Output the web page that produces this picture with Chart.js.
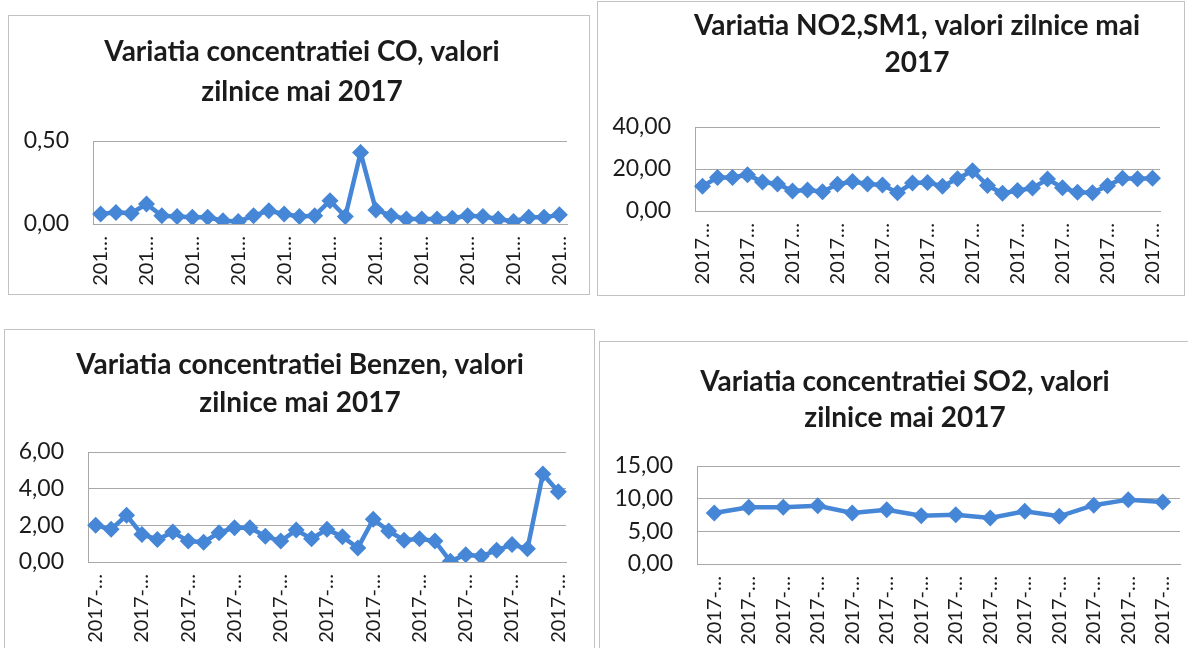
<!DOCTYPE html>
<html>
<head>
<meta charset="utf-8">
<script src="https://cdn.jsdelivr.net/npm/chart.js@4.4.0/dist/chart.umd.min.js"></script>
<style>
  body { margin: 0; background: #fff; width: 1188px; height: 648px; overflow: hidden; position: relative; }
  .box { position: absolute; border: 1px solid #c2c2c2; box-sizing: border-box; background: #fff; overflow: hidden; }
  .wrap { position: absolute; left: 0; top: 0; }
</style>
</head>
<body>
<div class="box" style="left:8px;top:15px;width:582px;height:280px">
  <div class="wrap" style="width:586px;height:278px"><canvas id="coChart"></canvas></div>
</div>
<div class="box" style="left:597px;top:1px;width:588px;height:295px">
  <div class="wrap" style="width:638px;height:293px"><canvas id="no2Chart"></canvas></div>
</div>
<div class="box" style="left:4px;top:329px;width:591px;height:340px">
  <div class="wrap" style="width:590px;height:338px"><canvas id="benzenChart"></canvas></div>
</div>
<div class="box" style="left:599px;top:341px;width:600px;height:330px">
  <div class="wrap" style="width:610px;height:328px"><canvas id="so2Chart"></canvas></div>
</div>
<script>
// zilele lunii mai 2017
const daysMay = [
  '2017-05-01', '2017-05-02', '2017-05-03', '2017-05-04', '2017-05-05', '2017-05-06', '2017-05-07',
  '2017-05-08', '2017-05-09', '2017-05-10', '2017-05-11', '2017-05-12', '2017-05-13', '2017-05-14',
  '2017-05-15', '2017-05-16', '2017-05-17', '2017-05-18', '2017-05-19', '2017-05-20', '2017-05-21',
  '2017-05-22', '2017-05-23', '2017-05-24', '2017-05-25', '2017-05-26', '2017-05-27', '2017-05-28',
  '2017-05-29', '2017-05-30', '2017-05-31'
];
const so2Days = [
  '2017-05-01', '2017-05-02', '2017-05-03', '2017-05-04', '2017-05-05', '2017-05-06', '2017-05-07',
  '2017-05-08', '2017-05-09', '2017-05-10', '2017-05-11', '2017-05-12', '2017-05-13', '2017-05-14'
];

const coValues = [0.06, 0.07, 0.065, 0.12, 0.05, 0.045, 0.04, 0.04, 0.02, 0.015, 0.05, 0.08, 0.06, 0.045, 0.05,
  0.14, 0.045, 0.43, 0.085, 0.05, 0.03, 0.03, 0.03, 0.035, 0.05, 0.045, 0.03, 0.015, 0.04, 0.04, 0.055];
const no2Values = [11.8, 16.0, 16.0, 17.3, 13.8, 12.9, 9.5, 10.0, 9.2, 12.7, 14.0, 12.9, 12.4, 8.7, 13.3,
  13.6, 11.8, 15.4, 19.2, 12.2, 8.4, 9.8, 10.9, 15.2, 11.1, 8.9, 8.7, 12.0, 15.6, 15.3, 15.6];
const benzenValues = [2.0, 1.78, 2.55, 1.5, 1.23, 1.63, 1.14, 1.08, 1.6, 1.87, 1.87, 1.41, 1.14, 1.74, 1.27,
  1.78, 1.38, 0.77, 2.33, 1.69, 1.19, 1.27, 1.14, 0.04, 0.4, 0.31, 0.64, 0.95, 0.72, 4.8, 3.83];
const so2Values = [7.8, 8.7, 8.7, 8.9, 7.8, 8.3, 7.4, 7.55, 7.05, 8.06, 7.3, 9.0, 9.85, 9.5];

const BLUE = '#4686d6';
const GRID = '#a8a8a8';
const TEXT = '#1b1b1b';

Chart.defaults.font.family = 'Lato';

function makeChart(id, labels, values, o) {
  return new Chart(document.getElementById(id), {
    type: 'line',
    data: {
      labels: labels,
      datasets: [{
        data: values,
        borderColor: BLUE,
        backgroundColor: BLUE,
        borderWidth: 4.5,
        pointStyle: 'rectRot',
        pointRadius: 8.5,
        pointBorderWidth: 0,
        tension: 0
      }]
    },
    options: {
      responsive: true,
      maintainAspectRatio: false,
      animation: false,
      layout: { padding: 0 },
      plugins: {
        legend: { display: false },
        tooltip: { enabled: false },
        title: {
          display: true,
          text: o.title,
          color: TEXT,
          font: { size: 28, weight: 'bold', lineHeight: o.titleLine + 'px' },
          padding: { top: o.titleTop, bottom: o.titleBottom }
        }
      },
      scales: {
        x: {
          offset: true,
          grid: { display: false },
          border: { display: true, color: GRID, width: 1 },
          afterFit: s => { s.height = o.xHeight; },
          ticks: {
            autoSkip: false,
            minRotation: 90,
            maxRotation: 90,
            padding: 4,
            color: TEXT,
            font: { size: 20 },
            callback: (v, i) => i % o.every === 0 ? labels[i].slice(0, o.keep) + '\u2026' : null
          }
        },
        y: {
          min: 0,
          max: o.max,
          afterFit: s => { s.width = o.yWidth; },
          grid: { color: GRID, drawTicks: false },
          border: { display: true, color: GRID },
          ticks: {
            stepSize: o.step,
            padding: 24,
            color: TEXT,
            font: { size: 23 },
            callback: v => v.toFixed(2).replace('.', ',')
          }
        },
        // spatiu gol la dreapta zonei de grafic
        spacer: {
          position: 'right',
          grid: { display: false },
          border: { display: false },
          ticks: { display: false },
          afterFit: s => { s.width = o.rightGap; }
        }
      }
    }
  });
}

makeChart('coChart', daysMay, coValues, {
  title: ['Variatia concentratiei CO, valori', 'zilnice mai 2017'],
  titleLine: 40, titleTop: 16, titleBottom: 29,
  yWidth: 84, rightGap: 28, xHeight: 70,
  max: 0.5, step: 0.5, every: 3, keep: 3
});
makeChart('no2Chart', daysMay, no2Values, {
  title: ['Variatia NO2,SM1, valori zilnice mai', '2017'],
  titleLine: 37, titleTop: 5, titleBottom: 46,
  yWidth: 97, rightGap: 76, xHeight: 84,
  max: 40, step: 20, every: 3, keep: 4
});
makeChart('benzenChart', daysMay, benzenValues, {
  title: ['Variatia concentratiei Benzen, valori', 'zilnice mai 2017'],
  titleLine: 38, titleTop: 16, titleBottom: 30,
  yWidth: 83, rightGap: 29, xHeight: 106,
  max: 6, step: 2, every: 3, keep: 5
});
makeChart('so2Chart', so2Days, so2Values, {
  title: ['Variatia concentratiei SO2, valori', 'zilnice mai 2017'],
  titleLine: 36, titleTop: 22, titleBottom: 30,
  yWidth: 97, rightGap: 30, xHeight: 106,
  max: 15, step: 5, every: 1, keep: 5
});
</script>
</body>
</html>
